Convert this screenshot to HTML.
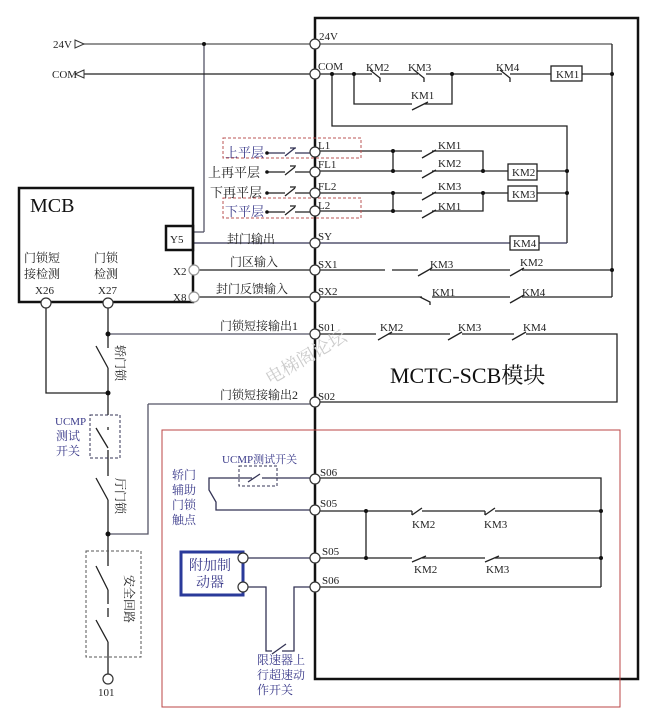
<!DOCTYPE html>
<html><head><meta charset="utf-8"><style>
html,body{margin:0;padding:0;background:#fff;}
svg{display:block;font-family:"Liberation Serif","Noto Serif CJK SC","Noto Sans CJK SC",serif;}
</style></head><body>
<svg width="654" height="722" viewBox="0 0 654 722" xmlns="http://www.w3.org/2000/svg">
<g fill="none" stroke="#222" stroke-width="1.3">
<rect x="315" y="18" width="323" height="661" stroke-width="2.5" stroke="#111"/>
<rect x="162" y="430" width="458" height="277" stroke="#b44" stroke-width="1"/>
<line x1="80" y1="44" x2="612" y2="44" stroke="#555"/>
<line x1="612" y1="44" x2="612" y2="297"/>
<line x1="204" y1="44" x2="204" y2="232" stroke="#556"/>
<line x1="204" y1="232" x2="193" y2="232" stroke="#556"/>
<line x1="80" y1="74" x2="372" y2="74"/>
<line x1="380" y1="74" x2="418" y2="74"/>
<line x1="426" y1="74" x2="502" y2="74"/>
<line x1="510" y1="74" x2="551" y2="74"/>
<line x1="582" y1="74" x2="612" y2="74"/>
<rect x="551" y="66" width="31" height="15"/>
<path d="M370 70 L380 78 L380 82 M414 70 L424 78 L424 82 M500 70 L510 78 L510 82"/>
<path d="M354 74 V104 H412 M424 104 H452 V74 M412 110 L428 102"/>
<path d="M332 74 V126 H567 V243"/>
<path d="M315 151 H422 M432 151 H483 V171 M315 171 H422 M432 171 H508 M537 171 H567"/>
<path d="M422 158 L436 150 M422 178 L436 170"/>
<rect x="508" y="164" width="29" height="16"/>
<path d="M315 193 H422 M432 193 H508 M537 193 H567 M315 211 H422 M432 211 H483 V193"/>
<path d="M422 200 L436 192 M422 218 L436 210"/>
<rect x="508" y="186" width="29" height="15"/>
<path d="M393 151 V171 M393 193 V211"/>
<path d="M267 153 H285 M295 153 H313 M285 156 L295 148 M290 148 H296" stroke="#335"/>
<path d="M267 172 H285 M295 172 H313 M285 175 L295 167 M290 166 H296"/>
<path d="M267 193 H285 M295 193 H313 M285 196 L295 188 M290 187 H296"/>
<path d="M267 212 H285 M295 212 H313 M285 215 L295 207 M290 206 H296"/>
<path d="M193 243 H510 M539 243 H567" stroke="#335"/>
<rect x="510" y="236" width="29" height="14"/>
<path d="M194 270 H385 M392 270 H418 M430 270 H510 M522 270 H612"/>
<path d="M418 276 L432 268 M510 276 L524 268"/>
<path d="M194 297 H422 M432 297 H510 M522 297 H612"/>
<path d="M420 297 L430 302 L430 305 M510 303 L524 295"/>
<rect x="19" y="188" width="174" height="114" stroke-width="2.5" stroke="#111"/>
<rect x="166" y="226" width="27" height="24" stroke-width="2.5" stroke="#111"/>
<path d="M108 334 H315 M148 404 H315 M148 404 V534 H108" stroke="#556"/>
<path d="M315 334 H376 M388 334 H450 M462 334 H514 M526 334 H617 V402 H315"/>
<path d="M378 340 L392 332 M448 340 L462 332 M512 340 L526 332"/>
<path d="M46 302 V393 H108 M108 302 V348 M108 368 V415 M96 346 L108 368"/>
<path d="M108 427 V430 M96 428 L108 448 M108 450 V476 M96 478 L108 500 M108 500 V566 M96 566 L108 590 M108 590 V604 M108 608 V617 M96 620 L108 642 M108 642 V674"/>
<path d="M315 478 H601 V587 M315 511 H412 M422 511 H485 M495 511 H601 M315 558 H412 M422 558 H485 M495 558 H601 M315 587 H601 M366 511 V558"/>
<path d="M412 511 V515 M412 515 L422 508 M485 511 V515 M485 515 L495 508 M412 562 L426 556 M485 562 L499 556"/>
<path d="M315 478 H262 M252 478 H209 V490 L216 502 V510 H315 M248 482 L260 474" stroke="#335"/>
<path d="M243 558 H315 M243 587 H266 V651 H272 M282 651 H294 V587 H315 M272 654 L286 644" stroke="#335"/>
</g>
<g fill="none" stroke-dasharray="3,2" stroke-width="1">
<rect x="223" y="138" width="138" height="20" stroke="#b55"/>
<rect x="223" y="198" width="138" height="20" stroke="#b55"/>
<rect x="90" y="415" width="30" height="43" stroke="#335"/>
<rect x="239" y="466" width="38" height="20" stroke="#335"/>
<rect x="86" y="551" width="55" height="106" stroke="#555"/>
</g>
<rect x="181" y="552" width="62" height="43" fill="none" stroke="#2a3a9a" stroke-width="3"/>
<g fill="#111">
<circle cx="204" cy="44" r="2"/><circle cx="332" cy="74" r="2"/><circle cx="354" cy="74" r="2"/><circle cx="452" cy="74" r="2"/><circle cx="612" cy="74" r="2"/>
<circle cx="393" cy="151" r="2"/><circle cx="393" cy="171" r="2"/><circle cx="393" cy="193" r="2"/><circle cx="393" cy="211" r="2"/>
<circle cx="483" cy="171" r="2"/><circle cx="483" cy="193" r="2"/><circle cx="567" cy="171" r="2"/><circle cx="567" cy="193" r="2"/>
<circle cx="612" cy="270" r="2"/><circle cx="108" cy="334" r="2.5"/><circle cx="108" cy="393" r="2.5"/><circle cx="108" cy="534" r="2.5"/>
<circle cx="366" cy="511" r="2"/><circle cx="366" cy="558" r="2"/><circle cx="601" cy="511" r="2"/><circle cx="601" cy="558" r="2"/>
<circle cx="267" cy="153" r="1.8"/><circle cx="267" cy="172" r="1.8"/><circle cx="267" cy="193" r="1.8"/><circle cx="267" cy="212" r="1.8"/>
</g>
<g fill="#fff" stroke="#333" stroke-width="1.2">
<circle cx="315" cy="44" r="5"/><circle cx="315" cy="74" r="5"/><circle cx="315" cy="152" r="5"/><circle cx="315" cy="172" r="5"/><circle cx="315" cy="193" r="5"/><circle cx="315" cy="211" r="5"/>
<circle cx="315" cy="243" r="5"/><circle cx="315" cy="270" r="5"/><circle cx="315" cy="297" r="5"/><circle cx="315" cy="334" r="5"/><circle cx="315" cy="402" r="5"/>
<circle cx="315" cy="479" r="5"/><circle cx="315" cy="510" r="5"/><circle cx="315" cy="558" r="5"/><circle cx="315" cy="587" r="5"/>
<circle cx="194" cy="270" r="5" stroke="#999"/><circle cx="194" cy="297" r="5" stroke="#999"/>
<circle cx="46" cy="303" r="5"/><circle cx="108" cy="303" r="5"/><circle cx="108" cy="679" r="5"/>
<circle cx="243" cy="558" r="5"/><circle cx="243" cy="587" r="5"/>
</g>
<path d="M75 40 L84 44 L75 48 Z M84 70 L75 74 L84 78 Z" fill="#fff" stroke="#333"/>
<g font-size="11" fill="#222">
<text x="53" y="48">24V</text><text x="52" y="78">COM</text>
<text x="319" y="40">24V</text><text x="318" y="70">COM</text>
<text x="366" y="71">KM2</text><text x="408" y="71">KM3</text><text x="496" y="71">KM4</text><text x="556" y="78">KM1</text>
<text x="411" y="99">KM1</text>
<text x="318" y="149">L1</text><text x="318" y="168">FL1</text><text x="318" y="190">FL2</text><text x="318" y="209">L2</text>
<text x="438" y="149">KM1</text><text x="438" y="167">KM2</text><text x="438" y="190">KM3</text><text x="438" y="210">KM1</text>
<text x="512" y="176">KM2</text><text x="512" y="198">KM3</text><text x="513" y="247">KM4</text>
<text x="318" y="240">SY</text><text x="318" y="268">SX1</text><text x="318" y="295">SX2</text>
<text x="430" y="268">KM3</text><text x="520" y="266">KM2</text><text x="432" y="296">KM1</text><text x="522" y="296">KM4</text>
<text x="170" y="243">Y5</text><text x="173" y="275">X2</text><text x="173" y="301">X8</text>
<text x="35" y="294">X26</text><text x="98" y="294">X27</text>
<text x="318" y="331">S01</text><text x="318" y="400">S02</text>
<text x="380" y="331">KM2</text><text x="458" y="331">KM3</text><text x="523" y="331">KM4</text>
<text x="320" y="476">S06</text><text x="320" y="507">S05</text><text x="322" y="555">S05</text><text x="322" y="584">S06</text>
<text x="412" y="528">KM2</text><text x="484" y="528">KM3</text><text x="414" y="573">KM2</text><text x="486" y="573">KM3</text>
<text x="98" y="696">101</text>
</g>
<g font-size="12" fill="#222">
<text x="227" y="243">封门输出</text><text x="230" y="266">门区输入</text><text x="216" y="293">封门反馈输入</text>
<text x="220" y="330">门锁短接输出1</text><text x="220" y="399">门锁短接输出2</text>
<text x="208" y="177" font-size="13">上再平层</text><text x="210" y="197" font-size="13">下再平层</text>
</g>
<g font-size="12" fill="#3a3a8a">
<text x="225" y="157" font-size="13">上平层</text><text x="225" y="216" font-size="13">下平层</text>
<text x="55" y="425" font-size="11">UCMP</text><text x="56" y="440">测试</text><text x="56" y="455">开关</text>
<text x="222" y="463" font-size="11">UCMP测试开关</text>
<text x="172" y="479">轿门</text><text x="172" y="494">辅助</text><text x="172" y="509">门锁</text><text x="172" y="524">触点</text>
<text x="257" y="664">限速器上</text><text x="257" y="679">行超速动</text><text x="257" y="694">作开关</text>
<text x="189" y="570" font-size="14">附加制</text><text x="196" y="587" font-size="14">动器</text>
</g>
<g font-size="12" fill="#222">
<text x="24" y="262">门锁短</text><text x="24" y="278">接检测</text>
<text x="94" y="262">门锁</text><text x="94" y="278">检测</text>
<text transform="translate(116,345) rotate(90)">轿门锁</text>
<text transform="translate(116,478) rotate(90)">厅门锁</text>
<text transform="translate(125,575) rotate(90)">安全回路</text>
</g>
<text x="30" y="212" font-size="20" fill="#111">MCB</text>
<text x="390" y="383" font-size="22" fill="#111">MCTC-SCB模块</text>
<text transform="translate(270,385) rotate(-30)" font-size="18" fill="#ccc">电梯阁论坛</text>
</svg>
</body></html>
